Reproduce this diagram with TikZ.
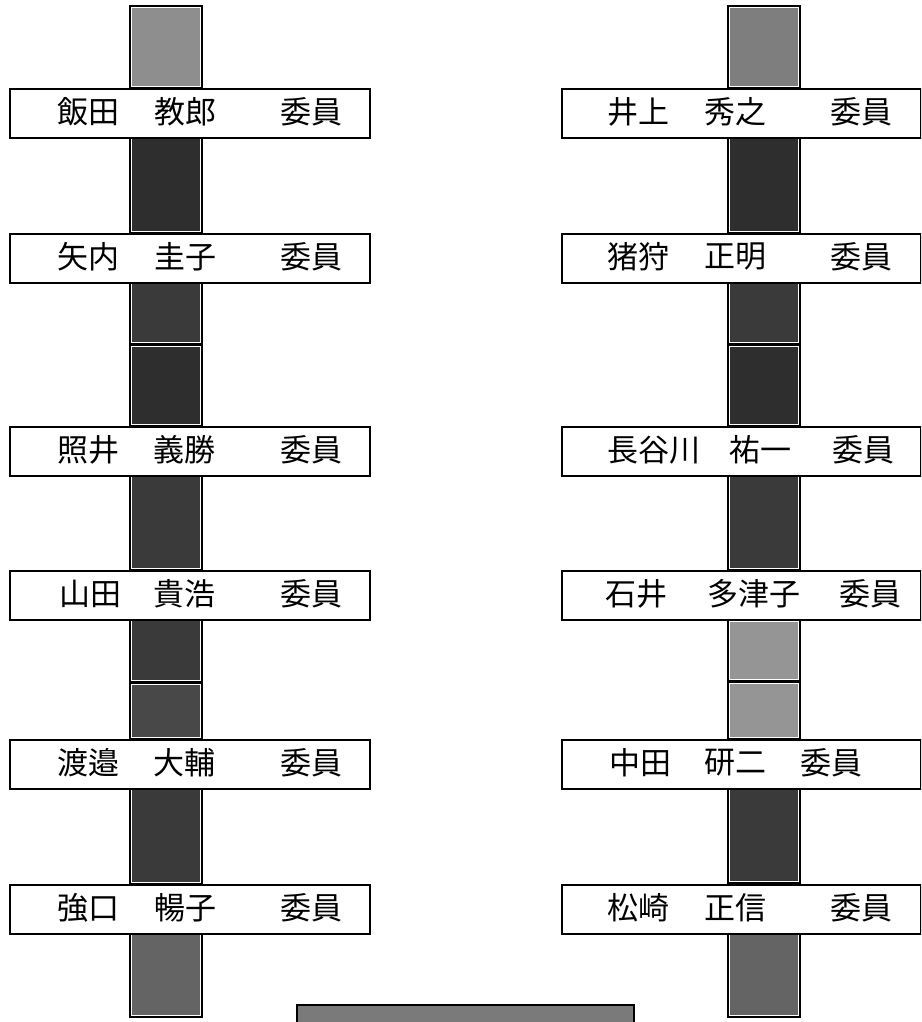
\documentclass[tikz,border=0pt]{standalone}
\usepackage{fontspec}
\newfontfamily\cjk{Noto Sans CJK JP}
\tikzset{
  member/.style={draw=black, line width=1.6pt, fill=white, minimum height=49pt, inner sep=0pt, anchor=north west},
  nametext/.style={anchor=west, inner sep=0pt, font=\cjk\fontsize{31}{31}\selectfont},
  pillarframe/.style={draw=black, line width=1.2pt, fill=white},
}
\newcommand\pillarseg[5]{%
  \draw[pillarframe] (#1,#2) rectangle (#3,#4);
  \fill[#5] (#1+2.2,#2+2.2) rectangle (#3-2.2,#4-2.2);}
\definecolor{pLight}{HTML}{8E8E8E}
\definecolor{pLightB}{HTML}{7E7E7E}
\definecolor{pDark}{HTML}{2E2E2E}
\definecolor{pDarkB}{HTML}{3A3A3A}
\definecolor{pMid}{HTML}{484848}
\definecolor{pLow}{HTML}{646464}
\definecolor{pPale}{HTML}{959595}
\definecolor{bottomgrey}{HTML}{7A7A7A}
\begin{document}
\begin{tikzpicture}[x=1pt,y=-1pt]
\clip (0,0) rectangle (921,1022);
\fill[white] (0,0) rectangle (921,1022);
% ---- left pillar ----
\pillarseg{130}{6}{202}{88}{pLight}
\pillarseg{130}{137}{202}{233}{pDark}
\pillarseg{130}{281}{202}{344}{pDarkB}
\pillarseg{130}{345}{202}{426}{pDark}
\pillarseg{130}{475}{202}{570}{pDarkB}
\pillarseg{130}{619}{202}{682}{pDarkB}
\pillarseg{130}{683}{202}{739}{pMid}
\pillarseg{130}{788}{202}{884}{pDarkB}
\pillarseg{130}{933}{202}{1017}{pLow}
% ---- right pillar ----
\pillarseg{728}{6}{800}{88}{pLightB}
\pillarseg{728}{137}{800}{233}{pDark}
\pillarseg{728}{282}{800}{344}{pDarkB}
\pillarseg{728}{345}{800}{426}{pDark}
\pillarseg{728}{475}{800}{570}{pDarkB}
\pillarseg{728}{620}{800}{681}{pPale}
\pillarseg{728}{682}{800}{739}{pPale}
\pillarseg{728}{788}{800}{883}{pDarkB}
\pillarseg{728}{933}{800}{1017}{pLow}
% ---- bottom box ----
\node[draw=black, line width=1.6pt, fill=bottomgrey, anchor=north west, minimum width=337pt, minimum height=40pt, inner sep=0pt] (bottom) at (296,1004) {};
% ---- member boxes ----
\foreach \i/\y in {1/88,2/233,3/426,4/570,5/739,6/884}{
  \node[member, minimum width=360pt] (L\i) at (9,\y) {};
  \node[member, minimum width=359pt] (R\i) at (561,\y) {};
}
% ---- left names ----
\node[nametext] (L1a) at ([yshift=1.5pt]L1.west -| 57,0) {飯田};
\node[nametext] (L1b) at ([yshift=1.5pt]L1.west -| 154,0) {教郎};
\node[nametext] (L1c) at ([yshift=1.5pt]L1.west -| 280,0) {委員};
\node[nametext] (L2a) at ([yshift=1.5pt]L2.west -| 57,0) {矢内};
\node[nametext] (L2b) at ([yshift=1.5pt]L2.west -| 154,0) {圭子};
\node[nametext] (L2c) at ([yshift=1.5pt]L2.west -| 280,0) {委員};
\node[nametext] (L3a) at ([yshift=1.5pt]L3.west -| 57,0) {照井};
\node[nametext] (L3b) at ([yshift=1.5pt]L3.west -| 153,0) {義勝};
\node[nametext] (L3c) at ([yshift=1.5pt]L3.west -| 280,0) {委員};
\node[nametext] (L4a) at ([yshift=1.5pt]L4.west -| 59,0) {山田};
\node[nametext] (L4b) at ([yshift=1.5pt]L4.west -| 153,0) {貴浩};
\node[nametext] (L4c) at ([yshift=1.5pt]L4.west -| 280,0) {委員};
\node[nametext] (L5a) at ([yshift=1.5pt]L5.west -| 57,0) {渡邉};
\node[nametext] (L5b) at ([yshift=1.5pt]L5.west -| 153,0) {大輔};
\node[nametext] (L5c) at ([yshift=1.5pt]L5.west -| 280,0) {委員};
\node[nametext] (L6a) at ([yshift=1.5pt]L6.west -| 57,0) {強口};
\node[nametext] (L6b) at ([yshift=1.5pt]L6.west -| 154,0) {暢子};
\node[nametext] (L6c) at ([yshift=1.5pt]L6.west -| 280,0) {委員};
% ---- right names ----
\node[nametext] (R1a) at ([yshift=1.5pt]R1.west -| 607,0) {井上};
\node[nametext] (R1b) at ([yshift=1.5pt]R1.west -| 704,0) {秀之};
\node[nametext] (R1c) at ([yshift=1.5pt]R1.west -| 830,0) {委員};
\node[nametext] (R2a) at ([yshift=1.5pt]R2.west -| 607,0) {猪狩};
\node[nametext] (R2b) at ([yshift=1.5pt]R2.west -| 704,0) {正明};
\node[nametext] (R2c) at ([yshift=1.5pt]R2.west -| 830,0) {委員};
\node[nametext] (R3a) at ([yshift=1.5pt]R3.west -| 607,0) {長谷川};
\node[nametext] (R3b) at ([yshift=1.5pt]R3.west -| 729,0) {祐一};
\node[nametext] (R3c) at ([yshift=1.5pt]R3.west -| 832,0) {委員};
\node[nametext] (R4a) at ([yshift=1.5pt]R4.west -| 605,0) {石井};
\node[nametext] (R4b) at ([yshift=1.5pt]R4.west -| 707,0) {多津子};
\node[nametext] (R4c) at ([yshift=1.5pt]R4.west -| 839,0) {委員};
\node[nametext] (R5a) at ([yshift=1.5pt]R5.west -| 609,0) {中田};
\node[nametext] (R5b) at ([yshift=1.5pt]R5.west -| 704,0) {研二};
\node[nametext] (R5c) at ([yshift=1.5pt]R5.west -| 800,0) {委員};
\node[nametext] (R6a) at ([yshift=1.5pt]R6.west -| 607,0) {松崎};
\node[nametext] (R6b) at ([yshift=1.5pt]R6.west -| 704,0) {正信};
\node[nametext] (R6c) at ([yshift=1.5pt]R6.west -| 830,0) {委員};
\end{tikzpicture}
\end{document}
